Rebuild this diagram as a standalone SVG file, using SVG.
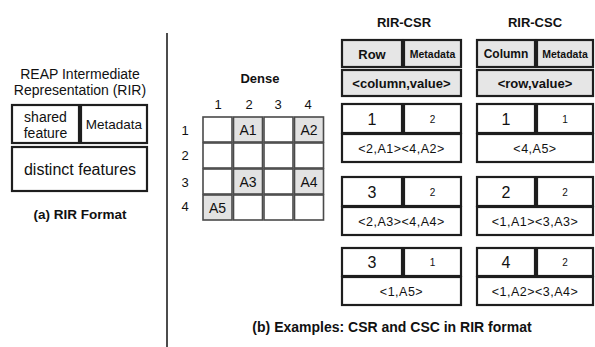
<svg xmlns="http://www.w3.org/2000/svg" width="595" height="347" viewBox="0 0 595 347">
<style>
text{font-family:"Liberation Sans",Arial,Helvetica,sans-serif;fill:#111;text-anchor:middle}
.b{font-weight:bold}
.box{fill:#fff;stroke:#1e1e1e;stroke-width:2.2}
.hdr{fill:#e6e6e6;stroke:#1e1e1e;stroke-width:2.2}
.cell{fill:#fff;stroke:#4a4a4a;stroke-width:1.6}
.fc{fill:#e2e2e2;stroke:#4a4a4a;stroke-width:1.6}
.big{font-size:16px}
.sm{font-size:10px}
.pair{font-size:12.5px;letter-spacing:0.5px}
</style>
<rect width="595" height="347" fill="#fff"/>
<g id="divider"><line x1="167" y1="33" x2="167" y2="347" stroke="#111" stroke-width="1.5"/></g>

<g id="rir-format">
<text x="80" y="79" font-size="14">REAP Intermediate</text>
<text x="80" y="95" font-size="14">Representation (RIR)</text>
<g id="shared-feature"><rect class="box" x="12" y="105" width="67" height="38"/>
<text x="45.5" y="122" font-size="14">shared</text><text x="45.5" y="138" font-size="14">feature</text></g>
<g id="metadata"><rect class="box" x="81" y="105" width="66" height="38"/>
<text x="114" y="129" font-size="13.5">Metadata</text></g>
<g id="distinct-features"><rect class="box" x="12" y="147" width="135" height="44"/>
<text x="80" y="175" font-size="16">distinct features</text></g>
<text class="b" x="80" y="219" font-size="13.5">(a) RIR Format</text>
</g>

<g id="dense">
<text class="b" x="260" y="83" font-size="13">Dense</text>
<g font-size="13">
<text x="218" y="109">1</text><text x="249" y="109">2</text><text x="278" y="109">3</text><text x="308" y="109">4</text>
<text x="185" y="135">1</text><text x="185" y="160">2</text><text x="185" y="187">3</text><text x="185" y="211">4</text>
</g>
<rect class="cell" x="203" y="117" width="29" height="25"/>
<rect class="fc" x="233.5" y="117" width="29" height="25"/>
<rect class="cell" x="264" y="117" width="29" height="25"/>
<rect class="fc" x="294.5" y="117" width="29" height="25"/>
<rect class="cell" x="203" y="143" width="29" height="25"/>
<rect class="cell" x="233.5" y="143" width="29" height="25"/>
<rect class="cell" x="264" y="143" width="29" height="25"/>
<rect class="cell" x="294.5" y="143" width="29" height="25"/>
<rect class="cell" x="203" y="169" width="29" height="25"/>
<rect class="fc" x="233.5" y="169" width="29" height="25"/>
<rect class="cell" x="264" y="169" width="29" height="25"/>
<rect class="fc" x="294.5" y="169" width="29" height="25"/>
<rect class="fc" x="203" y="195" width="29" height="25"/>
<rect class="cell" x="233.5" y="195" width="29" height="25"/>
<rect class="cell" x="264" y="195" width="29" height="25"/>
<rect class="cell" x="294.5" y="195" width="29" height="25"/>
<g font-size="14">
<text x="248" y="134.5">A1</text><text x="309" y="134.5">A2</text>
<text x="248" y="186.5">A3</text><text x="309" y="186.5">A4</text>
<text x="217.5" y="212.5">A5</text>
</g>
</g>

<g id="rir-csr">
<text class="b" x="404" y="27" font-size="13">RIR-CSR</text>
<g id="csr-header">
<rect class="hdr" x="342" y="40" width="60" height="27"/><text class="b" x="372" y="58.5" font-size="13">Row</text>
<rect class="hdr" x="404" y="40" width="57" height="27"/><text class="b" x="432.5" y="57.5" font-size="10.5">Metadata</text>
<rect class="hdr" x="342" y="70" width="119" height="26"/><text class="b" x="401.5" y="87.5" font-size="13">&lt;column,value&gt;</text>
</g>
<g id="csr-row1">
<rect class="box" x="342" y="104" width="60" height="29"/><text class="big" x="372" y="124.5">1</text>
<rect class="box" x="404" y="104" width="57" height="29"/><text class="sm" x="432.5" y="122.5">2</text>
<rect class="box" x="342" y="134" width="119" height="28"/><text class="pair" x="401.5" y="152.5">&lt;2,A1&gt;&lt;4,A2&gt;</text>
</g>
<g id="csr-row3">
<rect class="box" x="342" y="177" width="60" height="29"/><text class="big" x="372" y="197.5">3</text>
<rect class="box" x="404" y="177" width="57" height="29"/><text class="sm" x="432.5" y="195.5">2</text>
<rect class="box" x="342" y="207" width="119" height="28"/><text class="pair" x="401.5" y="225.5">&lt;2,A3&gt;&lt;4,A4&gt;</text>
</g>
<g id="csr-row3b">
<rect class="box" x="342" y="248" width="60" height="28"/><text class="big" x="372" y="268">3</text>
<rect class="box" x="404" y="248" width="57" height="28"/><text class="sm" x="432.5" y="266">1</text>
<rect class="box" x="342" y="277" width="119" height="28"/><text class="pair" x="401.5" y="295.5">&lt;1,A5&gt;</text>
</g>
</g>

<g id="rir-csc">
<text class="b" x="535" y="27" font-size="13">RIR-CSC</text>
<g id="csc-header">
<rect class="hdr" x="477" y="40" width="58" height="27"/><text class="b" x="506" y="58" font-size="12">Column</text>
<rect class="hdr" x="537" y="40" width="56" height="27"/><text class="b" x="565" y="57.5" font-size="10.5">Metadata</text>
<rect class="hdr" x="477" y="70" width="116" height="26"/><text class="b" x="535" y="87.5" font-size="13">&lt;row,value&gt;</text>
</g>
<g id="csc-col1">
<rect class="box" x="477" y="104" width="58" height="29"/><text class="big" x="506" y="124.5">1</text>
<rect class="box" x="537" y="104" width="56" height="29"/><text class="sm" x="565" y="122.5">1</text>
<rect class="box" x="477" y="134" width="116" height="28"/><text class="pair" x="535" y="152.5">&lt;4,A5&gt;</text>
</g>
<g id="csc-col2">
<rect class="box" x="477" y="177" width="58" height="29"/><text class="big" x="506" y="197.5">2</text>
<rect class="box" x="537" y="177" width="56" height="29"/><text class="sm" x="565" y="195.5">2</text>
<rect class="box" x="477" y="207" width="116" height="28"/><text class="pair" x="535" y="225.5">&lt;1,A1&gt;&lt;3,A3&gt;</text>
</g>
<g id="csc-col4">
<rect class="box" x="477" y="248" width="58" height="28"/><text class="big" x="506" y="268">4</text>
<rect class="box" x="537" y="248" width="56" height="28"/><text class="sm" x="565" y="266">2</text>
<rect class="box" x="477" y="277" width="116" height="28"/><text class="pair" x="535" y="295.5">&lt;1,A2&gt;&lt;3,A4&gt;</text>
</g>
</g>

<text class="b" x="392" y="332" font-size="14">(b) Examples: CSR and CSC in RIR format</text>
</svg>
